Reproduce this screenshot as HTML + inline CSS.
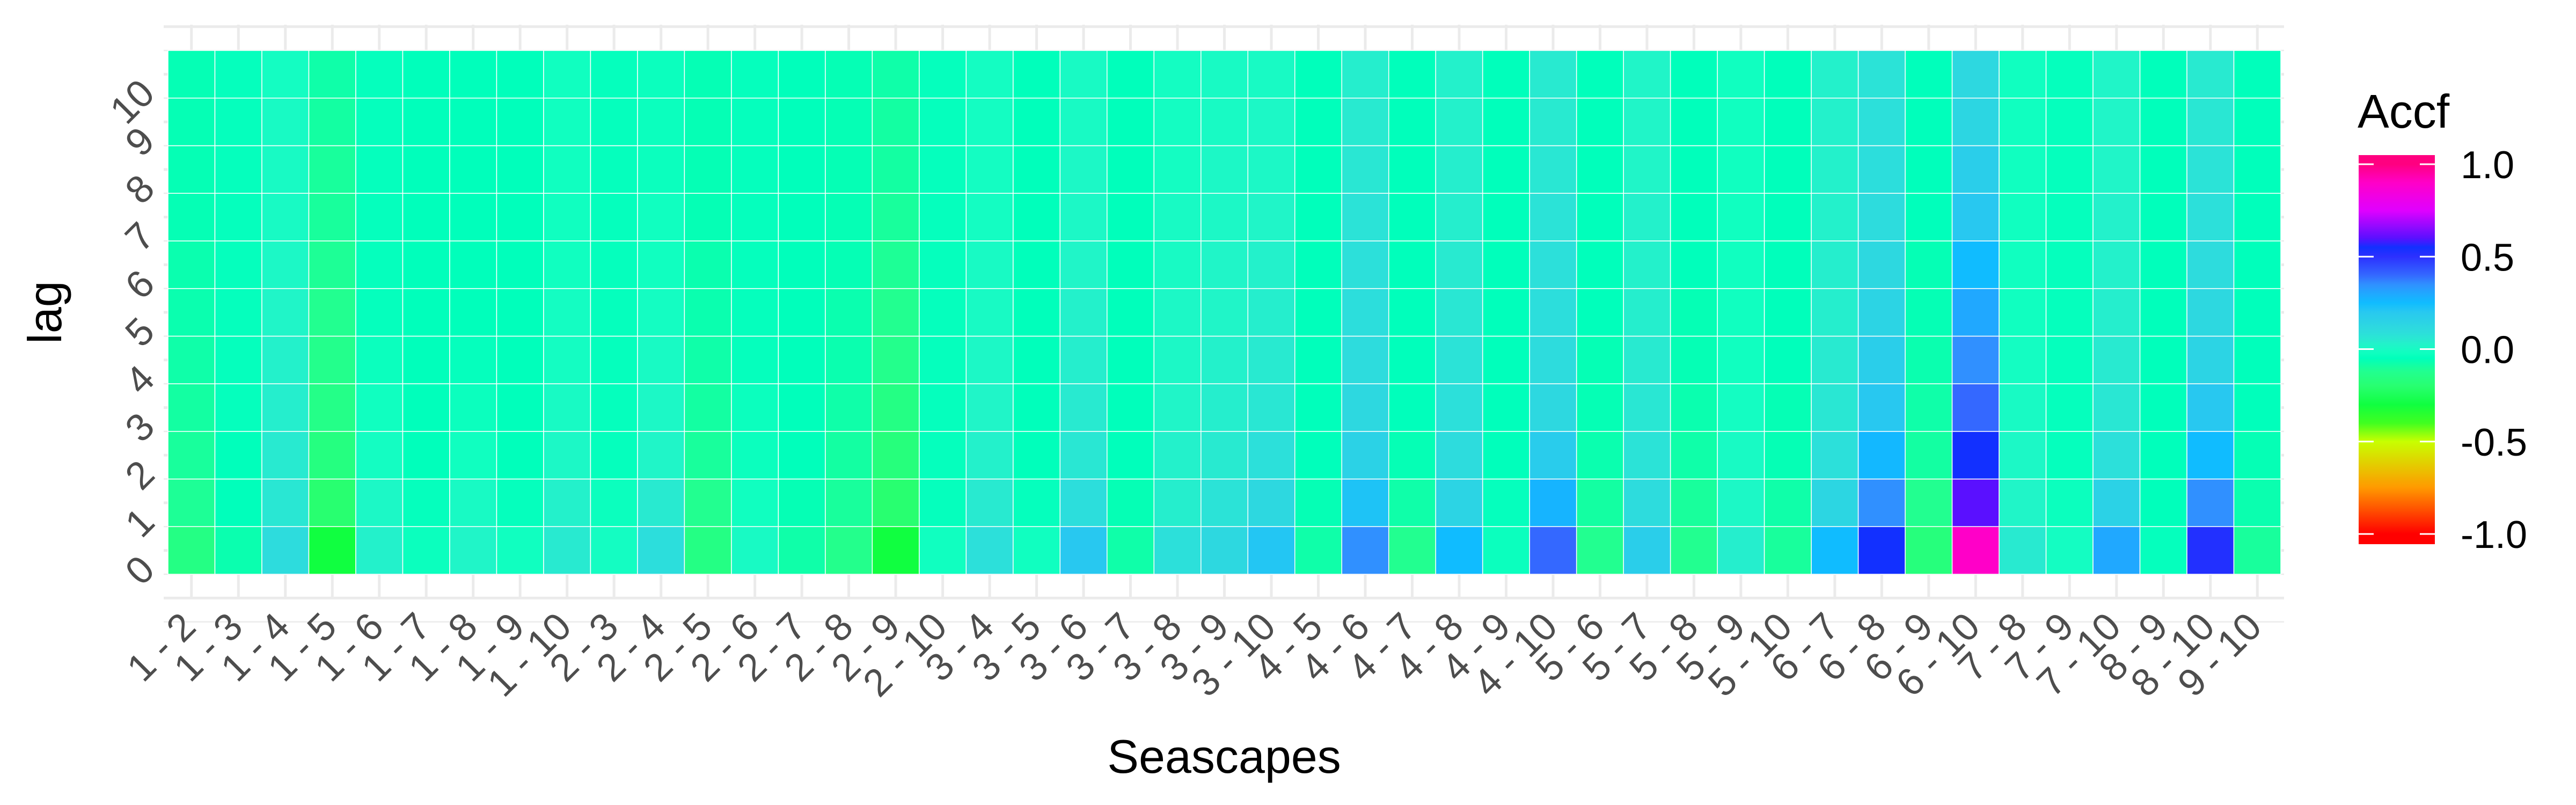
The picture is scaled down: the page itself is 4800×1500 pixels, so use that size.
<!DOCTYPE html>
<html><head><meta charset="utf-8"><style>
html,body{margin:0;padding:0;background:#fff;}
svg{display:block;font-family:"Liberation Sans",sans-serif;}
</style></head><body>
<svg id="chart" width="4800" height="1500" viewBox="0 0 4800 1500" xmlns="http://www.w3.org/2000/svg">
<defs>
<linearGradient id="lg" x1="0" y1="0" x2="0" y2="1"></linearGradient>
</defs>
<g id="grid"></g>
<g id="tiles"></g>
<g id="xlabels"></g>
<g id="ylabels"></g>
<text x="2281" y="1440" font-size="88" text-anchor="middle" fill="#000">Seascapes</text>
<text x="114" y="582" font-size="88" text-anchor="middle" fill="#000" transform="rotate(-90 114 582)">lag</text>
<g id="legend">
<text x="4393" y="238" font-size="88" fill="#000">Accf</text>
<rect x="4395" y="289" width="142" height="725" fill="url(#lg)"></rect>
</g>
</svg>
<script>
const pairs = ["1 - 2","1 - 3","1 - 4","1 - 5","1 - 6","1 - 7","1 - 8","1 - 9","1 - 10","2 - 3","2 - 4","2 - 5","2 - 6","2 - 7","2 - 8","2 - 9","2 - 10","3 - 4","3 - 5","3 - 6","3 - 7","3 - 8","3 - 9","3 - 10","4 - 5","4 - 6","4 - 7","4 - 8","4 - 9","4 - 10","5 - 6","5 - 7","5 - 8","5 - 9","5 - 10","6 - 7","6 - 8","6 - 9","6 - 10","7 - 8","7 - 9","7 - 10","8 - 9","8 - 10","9 - 10"];
const lags = [0,1,2,3,4,5,6,7,8,9,10];
const legendTicks = [1.0,0.5,0.0,-0.5,-1.0];
const legendTickLabels = ["1.0","0.5","0.0","-0.5","-1.0"];
// accf values per pair, lag 0..10
const accf = [
[-0.15,-0.11,-0.1,-0.09,-0.08,-0.07,-0.07,-0.06,-0.06,-0.06,-0.06],
[-0.07,-0.05,-0.05,-0.04,-0.04,-0.04,-0.04,-0.04,-0.04,-0.04,-0.04],
[0.1,0.06,0.05,0.04,0.03,0.02,0.01,0,0,0,-0.01],
[-0.3,-0.2,-0.16,-0.14,-0.13,-0.12,-0.11,-0.1,-0.1,-0.09,-0.08],
[0.03,0.01,-0.01,-0.02,-0.03,-0.04,-0.04,-0.04,-0.04,-0.04,-0.04],
[-0.03,-0.04,-0.05,-0.05,-0.05,-0.05,-0.05,-0.05,-0.05,-0.05,-0.05],
[0.02,0,-0.02,-0.03,-0.04,-0.05,-0.05,-0.05,-0.05,-0.05,-0.05],
[-0.02,-0.04,-0.05,-0.05,-0.05,-0.05,-0.05,-0.05,-0.05,-0.05,-0.05],
[0.05,0.03,0.01,0,-0.01,-0.01,-0.02,-0.02,-0.02,-0.02,-0.02],
[-0.01,-0.03,-0.04,-0.04,-0.04,-0.04,-0.04,-0.04,-0.04,-0.04,-0.04],
[0.09,0.05,0.02,0.01,0,-0.01,-0.02,-0.02,-0.03,-0.03,-0.03],
[-0.15,-0.12,-0.1,-0.09,-0.08,-0.07,-0.07,-0.06,-0.06,-0.06,-0.06],
[0,-0.02,-0.03,-0.03,-0.04,-0.04,-0.04,-0.04,-0.04,-0.04,-0.04],
[-0.08,-0.06,-0.05,-0.05,-0.05,-0.05,-0.05,-0.05,-0.05,-0.05,-0.05],
[-0.13,-0.1,-0.09,-0.08,-0.07,-0.07,-0.06,-0.06,-0.06,-0.06,-0.06],
[-0.3,-0.2,-0.17,-0.15,-0.13,-0.12,-0.11,-0.1,-0.09,-0.09,-0.08],
[-0.02,-0.04,-0.04,-0.04,-0.04,-0.04,-0.04,-0.04,-0.04,-0.04,-0.04],
[0.08,0.05,0.03,0.02,0.01,0,0,-0.01,-0.01,-0.01,-0.01],
[-0.02,-0.04,-0.05,-0.05,-0.05,-0.05,-0.05,-0.05,-0.05,-0.05,-0.05],
[0.2,0.09,0.06,0.05,0.04,0.03,0.02,0.01,0.01,0,0],
[-0.08,-0.06,-0.05,-0.05,-0.05,-0.05,-0.05,-0.05,-0.05,-0.05,-0.05],
[0.08,0.04,0.03,0.02,0.01,0.01,0,0,-0.01,-0.01,-0.01],
[0.12,0.07,0.05,0.04,0.03,0.02,0.02,0.01,0.01,0,0],
[0.21,0.12,0.08,0.06,0.05,0.04,0.03,0.02,0.01,0.01,0],
[-0.08,-0.06,-0.05,-0.05,-0.05,-0.05,-0.05,-0.05,-0.05,-0.05,-0.05],
[0.35,0.22,0.15,0.12,0.1,0.09,0.08,0.07,0.06,0.05,0.04],
[-0.12,-0.08,-0.06,-0.05,-0.05,-0.05,-0.05,-0.05,-0.05,-0.05,-0.05],
[0.25,0.14,0.1,0.08,0.07,0.06,0.05,0.04,0.04,0.03,0.03],
[-0.03,-0.04,-0.05,-0.05,-0.05,-0.05,-0.05,-0.05,-0.05,-0.05,-0.05],
[0.4,0.27,0.18,0.12,0.1,0.09,0.08,0.07,0.06,0.05,0.05],
[-0.12,-0.09,-0.07,-0.06,-0.06,-0.05,-0.05,-0.05,-0.05,-0.05,-0.05],
[0.17,0.1,0.07,0.06,0.05,0.04,0.03,0.03,0.02,0.02,0.02],
[-0.12,-0.1,-0.08,-0.07,-0.06,-0.06,-0.05,-0.05,-0.05,-0.05,-0.05],
[0.04,0.01,0,-0.01,-0.02,-0.02,-0.02,-0.02,-0.02,-0.02,-0.02],
[-0.1,-0.08,-0.06,-0.06,-0.05,-0.05,-0.05,-0.05,-0.05,-0.05,-0.05],
[0.25,0.13,0.08,0.06,0.05,0.04,0.04,0.03,0.03,0.03,0.03],
[0.55,0.35,0.26,0.2,0.17,0.14,0.12,0.1,0.09,0.08,0.07],
[-0.17,-0.12,-0.09,-0.08,-0.07,-0.06,-0.06,-0.05,-0.05,-0.05,-0.05],
[0.9,0.6,0.55,0.4,0.35,0.3,0.25,0.2,0.17,0.13,0.12],
[0.05,0.02,0.01,0,-0.01,-0.02,-0.02,-0.02,-0.02,-0.02,-0.02],
[-0.01,-0.03,-0.04,-0.04,-0.04,-0.04,-0.04,-0.04,-0.04,-0.04,-0.04],
[0.3,0.15,0.08,0.06,0.05,0.04,0.03,0.03,0.02,0.02,0.02],
[-0.04,-0.05,-0.05,-0.05,-0.05,-0.05,-0.05,-0.05,-0.05,-0.05,-0.05],
[0.52,0.35,0.25,0.2,0.14,0.12,0.1,0.08,0.07,0.06,0.05],
[-0.1,-0.07,-0.06,-0.05,-0.05,-0.05,-0.05,-0.05,-0.05,-0.05,-0.05]
];
const colorStops = [[-1,"#FF0000"],[-0.75,"#FF9900"],[-0.5,"#C8FF00"],[-0.4,"#40FF20"],[-0.3,"#10FF40"],[-0.2,"#28FF70"],[-0.12,"#22FF90"],[-0.05,"#00FFBB"],[-0.02,"#10FFC0"],[0.02,"#20F5C8"],[0.05,"#28EAD0"],[0.08,"#2CE0DA"],[0.12,"#2DD8E0"],[0.2,"#28C8F0"],[0.25,"#10BCFF"],[0.3,"#20A8FF"],[0.35,"#3090FF"],[0.4,"#3468FF"],[0.5,"#2C30FF"],[0.55,"#1230FF"],[0.6,"#5A10FF"],[0.75,"#E000FF"],[0.9,"#FF00C8"],[1,"#FF0080"]];

const NS="http://www.w3.org/2000/svg";
const X0=313, X1=4250, Y0=94, Y1=1070;
const tw=(X1-X0)/pairs.length, th=(Y1-Y0)/lags.length;
const xCenter=i=>X0+(i+0.5)*tw;
const yCenter=l=>Y1-(l+0.5)*th;
const legY=v=>995-(v+1)/2*(995-306);
function hex(c){return [1,3,5].map(k=>parseInt(c.substr(k,2),16));}
function colorOf(v){
  if(v<=colorStops[0][0])return colorStops[0][1];
  for(let k=1;k<colorStops.length;k++){
    if(v<=colorStops[k][0]){
      const [a,ca]=colorStops[k-1],[b,cb]=colorStops[k];
      const t=(v-a)/(b-a),A=hex(ca),B=hex(cb);
      return "rgb("+A.map((x,j)=>Math.round(x+(B[j]-x)*t)).join(",")+")";
    }
  }
  return colorStops[colorStops.length-1][1];
}
function mk(tag,attrs,parent){const e=document.createElementNS(NS,tag);for(const k in attrs)e.setAttribute(k,attrs[k]);parent.appendChild(e);return e;}

// grid
const grid=document.getElementById('grid');
for(let i=0;i<pairs.length;i++){
  const g=mk('line',{x1:xCenter(i),x2:xCenter(i),y1:46,y2:1114,stroke:"#EBEBEB","stroke-width":5},grid);
  
  
}
for(let l=-1;l<=lags.length;l++){
  const y=Y1-(l+0.5)*th;
  const g=mk('line',{x1:305,x2:4256,y1:y,y2:y,stroke:"#EBEBEB","stroke-width":5},grid);
  
  
  const y2=Y1-l*th;
  const m=mk('line',{x1:305,x2:4256,y1:y2,y2:y2,stroke:"#EBEBEB","stroke-width":2.5},grid);
  
  
}

// tiles
const tiles=document.getElementById('tiles');
accf.forEach((col,i)=>{
  col.forEach((v,l)=>{
    const r=mk('rect',{x:xCenter(i)-tw/2,y:yCenter(lags[l])-th/2,width:tw,height:th,fill:colorOf(v),stroke:"#fff","stroke-width":1.5},tiles);
    
    
  });
});

// x labels
const xl=document.getElementById('xlabels');
pairs.forEach((p,i)=>{
  const x=xCenter(i)+12, y=1172;
  const t=mk('text',{x:x,y:y,"font-size":72,fill:"#4D4D4D","text-anchor":"end",transform:`rotate(-45 ${x} ${y})`},xl);
  t.textContent=p;
  
  
});
// y labels
const yl=document.getElementById('ylabels');
lags.forEach(l=>{
  const x=292, y=yCenter(l)+40;
  const t=mk('text',{x:x,y:y,"font-size":72,fill:"#4D4D4D","text-anchor":"end",transform:`rotate(-45 ${x} ${y})`},yl);
  t.textContent=String(l);
  
  
});

// legend gradient
const lg=document.getElementById('lg');
const yTop=289,yBot=1014;
mk('stop',{offset:0,"stop-color":colorOf(1)},lg);
for(let k=0;k<=80;k++){
  const v=1-2*k/80;
  const off=(legY(v)-yTop)/(yBot-yTop);
  mk('stop',{offset:Math.max(0,Math.min(1,off)),"stop-color":colorOf(v)},lg);
}
const legend=document.getElementById('legend');
legendTicks.forEach((v,k)=>{
  const y=legY(v);
  const a=mk('line',{x1:4395,x2:4423,y1:y,y2:y,stroke:"#fff","stroke-width":3},legend);
  
  
  const b=mk('line',{x1:4509,x2:4537,y1:y,y2:y,stroke:"#fff","stroke-width":3},legend);
  
  
  const t=mk('text',{x:4585,y:y+26,"font-size":72,fill:"#000"},legend);
  t.textContent=legendTickLabels[k];
  
  
});
</script>
</body></html>
